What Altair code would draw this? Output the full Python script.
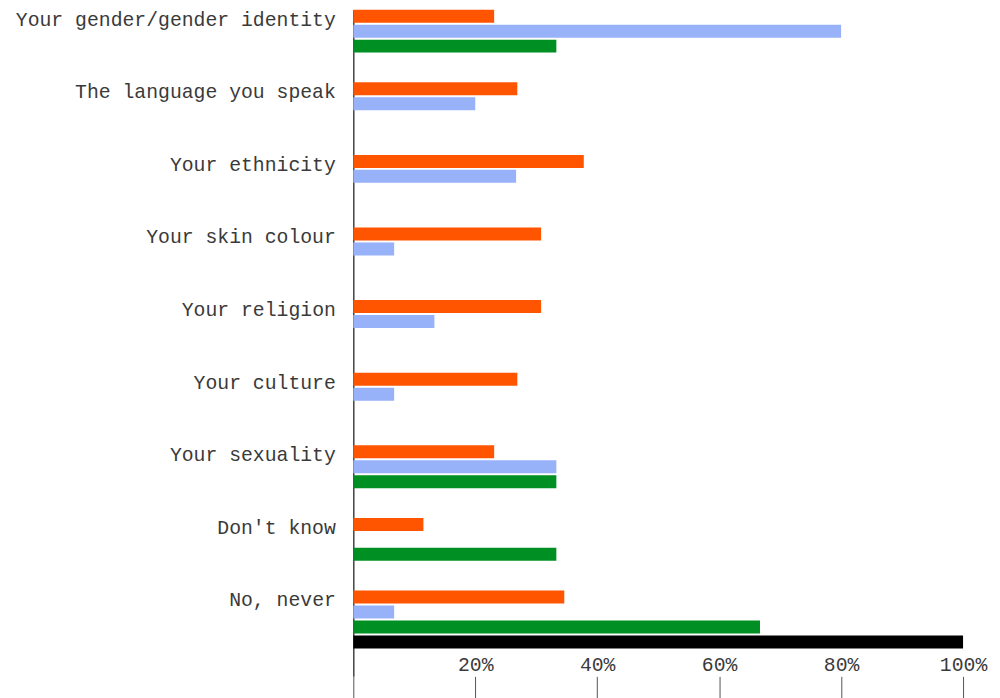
import altair as alt
import pandas as pd

categories = [
    "Your gender/gender identity",
    "The language you speak",
    "Your ethnicity",
    "Your skin colour",
    "Your religion",
    "Your culture",
    "Your sexuality",
    "Don't know",
    "No, never",
]
series = ["Group 1", "Group 2", "Group 3", "Group 4"]
colors = ["#FF5500", "#98B2FA", "#008F22", "#000000"]

orange_vals = [23.1, 26.9, 37.8, 30.8, 30.8, 26.9, 23.1, 11.5, 34.6]
blue_vals = [80.0, 20.0, 26.7, 6.7, 13.3, 6.7, 33.3, None, 6.7]
green_vals = [33.3, None, None, None, None, None, 33.3, 33.3, 66.7]
black_vals = [None, None, None, None, None, None, None, None, 100.0]

tick_values = [0, 20, 40, 60, 80, 100]

rows = []
for s, vals in zip(series, [orange_vals, blue_vals, green_vals, black_vals]):
    for c, v in zip(categories, vals):
        if v is not None:
            rows.append({"category": c, "series": s, "value": v})
df = pd.DataFrame(rows)

FONT = "Liberation Mono"
TEXT = "#3a3a3a"

chart = alt.Chart(df).mark_bar().encode(
    x=alt.X(
        "value:Q",
        scale=alt.Scale(domain=[0, 100], nice=False, zero=True),
        axis=alt.Axis(
            values=tick_values,
            labelExpr="datum.value == 0 ? '' : datum.value + '%'",
            orient="bottom",
            domain=False,
            grid=False,
            ticks=True,
            tickSize=22,
            tickColor="#555555",
            tickWidth=1,
            labelBaseline="bottom",
            labelPadding=-24,
            labelFont=FONT,
            labelFontSize=19.8,
            labelColor=TEXT,
            labelFlush=False,
            labelOverlap=False,
            title=None,
        ),
    ),
    y=alt.Y(
        "category:N",
        sort=categories,
        scale=alt.Scale(paddingInner=0.17526, paddingOuter=0.1787, align=0, round=False),
        axis=alt.Axis(
            title=None,
            ticks=False,
            domain=True,
            domainColor="#444444",
            domainWidth=1.5,
            labelPadding=18,
            labelFont=FONT,
            labelFontSize=19.8,
            labelColor=TEXT,
            labelOffset=-20,
            labelBaseline="middle",
            labelLimit=0,
            minExtent=346,
            maxExtent=346,
        ),
    ),
    yOffset=alt.YOffset(
        "series:N",
        sort=series,
        scale=alt.Scale(domain=series, paddingInner=2 / 15, paddingOuter=1 / 15, align=0, round=False),
    ),
    color=alt.Color("series:N", scale=alt.Scale(domain=series, range=colors), legend=None),
).properties(
    width=611,
    height=668,
    padding={"left": 0, "top": 0, "right": 5, "bottom": 0},
).configure_view(stroke=None)

chart.save("out.html", embed_options={"renderer": "svg", "actions": False})
